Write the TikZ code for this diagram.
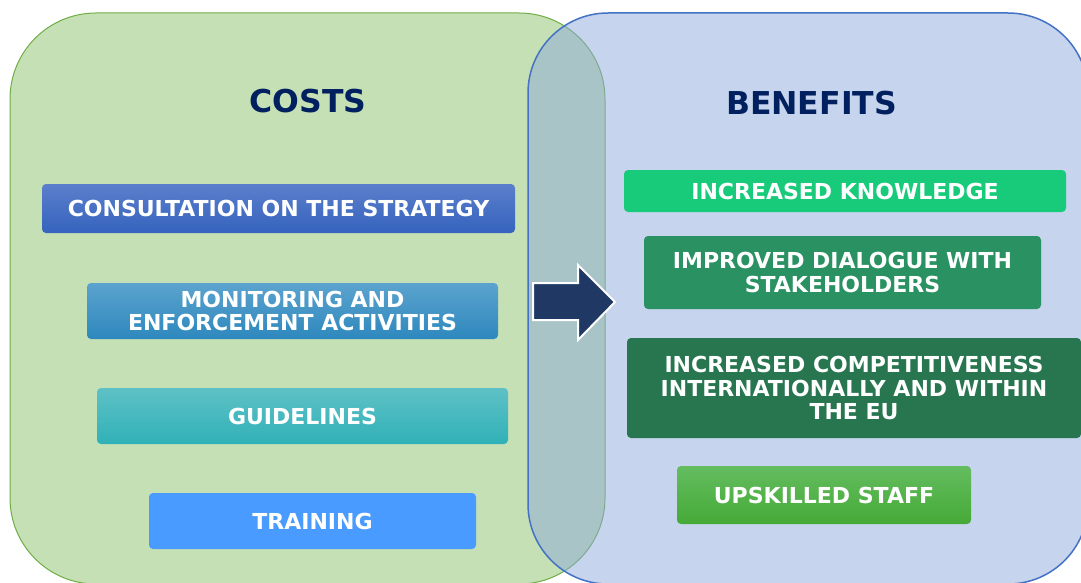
\documentclass[tikz,border=0pt]{standalone}
\usepackage{fontspec}
\setmainfont{DejaVu Sans}
\usepackage{tikz}
\usetikzlibrary{positioning}
\definecolor{panelgreen}{HTML}{C5E0B4}
\definecolor{edgegreen}{HTML}{70AD47}
\definecolor{panelblue}{HTML}{8EA9DB}
\definecolor{edgeblue}{HTML}{4472C4}
\definecolor{navy}{HTML}{002060}
\definecolor{arrownavy}{HTML}{203864}
\definecolor{consulttop}{HTML}{5B7FCB}
\definecolor{consultbot}{HTML}{3563BE}
\definecolor{monitortop}{HTML}{5BA3CE}
\definecolor{monitorbot}{HTML}{2E88BD}
\definecolor{guidetop}{HTML}{5EC1C6}
\definecolor{guidebot}{HTML}{30B1B7}
\definecolor{trainblue}{HTML}{4A9BFF}
\definecolor{knowgreen}{HTML}{18CB7B}
\definecolor{dialoggreen}{HTML}{2A9163}
\definecolor{competgreen}{HTML}{287650}
\definecolor{skilltop}{HTML}{64BC5F}
\definecolor{skillbot}{HTML}{45AA37}
\tikzstyle{heading}=[inner sep=0, text=navy, font=\fontsize{31.5}{34}\selectfont\bfseries]
\tikzstyle{box}=[rectangle, rounded corners=4pt, inner sep=0, align=center, text=white,
  font=\fontsize{22}{23.5}\selectfont\bfseries]

\begin{document}
\begin{tikzpicture}[x=1pt,y=-1pt]
\useasboundingbox (0,0) rectangle (1081,583);
% panels
\node [draw=edgegreen, line width=1pt, fill=panelgreen, rounded corners=86pt,
  minimum width=595pt, minimum height=571pt] (costpanel) at (307.5,298.5) {};
\node [draw=edgeblue, line width=1.5pt, fill=panelblue, fill opacity=0.5, draw opacity=1,
  rounded corners=80pt, minimum width=560pt, minimum height=571pt] (benefitpanel) at (808,298.5) {};
\node [heading] (costs) at (308,101.5) {COSTS};
\node [heading] (benefits) at (811.5,103) {BENEFITS};

% costs
\node [box, top color=consulttop, bottom color=consultbot, minimum width=473pt, minimum height=49pt] (c1) at (278.5,208.5) {CONSULTATION ON THE STRATEGY};
\node [box, top color=monitortop, bottom color=monitorbot, minimum width=411pt, minimum height=56pt] (c2) at (292.5,311) {MONITORING AND\\ENFORCEMENT ACTIVITIES};
\node [box, top color=guidetop, bottom color=guidebot, minimum width=411pt, minimum height=56pt] (c3) at (302.5,416) {GUIDELINES};
\node [box, fill=trainblue, minimum width=327pt, minimum height=56pt] (c4) at (312.5,521) {TRAINING};

% benefits
\node [box, fill=knowgreen, minimum width=442pt, minimum height=42pt] (b1) at (845,191) {INCREASED KNOWLEDGE};
\node [box, fill=dialoggreen, minimum width=397pt, minimum height=73pt] (b2) at (842.5,272.5) {IMPROVED DIALOGUE WITH\\STAKEHOLDERS};
\node [box, fill=competgreen, minimum width=454pt, minimum height=100pt] (b3) at (854,388) {INCREASED COMPETITIVENESS\\INTERNATIONALLY AND WITHIN\\THE EU};
\node [box, top color=skilltop, bottom color=skillbot, minimum width=294pt, minimum height=58pt] (b4) at (824,495) {UPSKILLED STAFF};

% arrow
\draw [fill=arrownavy, draw=white, line width=2pt, line join=miter]
  (533,283) -- (578,283) -- (578,265) -- (615,302) -- (578,340) -- (578,320) -- (533,320) -- cycle;
\end{tikzpicture}
\end{document}
